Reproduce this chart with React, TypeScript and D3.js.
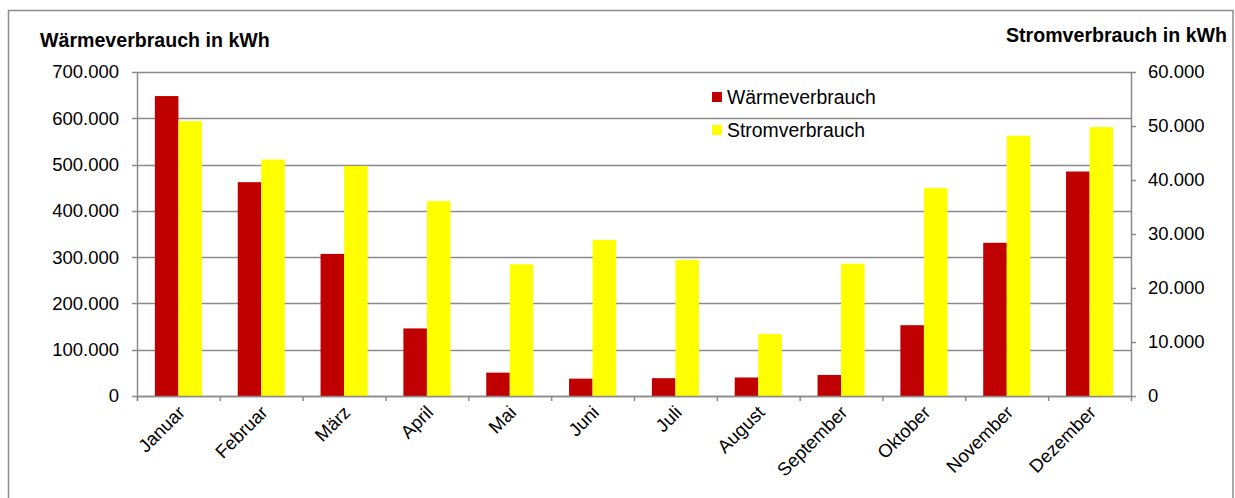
import React from "react";
import { scaleBand, scaleLinear } from "d3";

const months = [
  "Januar", "Februar", "März", "April", "Mai", "Juni",
  "Juli", "August", "September", "Oktober", "November", "Dezember",
];
const series = ["Wärmeverbrauch", "Stromverbrauch"];
const waerme = [648000, 462000, 307000, 146000, 50500, 37500, 38500, 40000, 45500, 153000, 331000, 485000];
const strom = [50900, 43800, 42600, 36100, 24400, 28900, 25200, 11500, 24500, 38500, 48200, 49800];
const leftTicks = [0, 100000, 200000, 300000, 400000, 500000, 600000, 700000];
const rightTicks = [0, 10000, 20000, 30000, 40000, 50000, 60000];

const colors = ["#C00000", "#FFFF00"];
const gridColor = "#8a8a8a";
const font = "'Liberation Sans', Arial, sans-serif";

const fmt = (v: number) =>
  v === 0 ? "0" : v.toLocaleString("de-DE", { maximumFractionDigits: 0 });

const W = 1235;
const H = 498;
const plot = { left: 137, right: 1131, top: 72, bottom: 396 };

export default function App() {
  const x0 = scaleBand<string>().domain(months).range([plot.left, plot.right]).padding(0);
  const x1 = scaleBand<string>()
    .domain(series)
    .range([0, x0.step()])
    .paddingInner(0)
    .paddingOuter(0.76);
  const yL = scaleLinear().domain([0, 700000]).range([plot.bottom, plot.top]);
  const yR = scaleLinear().domain([0, 60000]).range([plot.bottom, plot.top]);

  const values = [waerme, strom];
  const scales = [yL, yR];

  return (
    <svg
      width={W}
      height={H}
      style={{ position: "absolute", left: 0, top: 0, background: "#fff" }}
      fontFamily={font}
    >
      <rect x={8.5} y={10.5} width={1224.5} height={520} fill="#fff" stroke="#8c8c8c" strokeWidth={1.5} />

      {/* gridlines */}
      {leftTicks.map((t) => (
        <line key={t} x1={plot.left} x2={plot.right} y1={Math.round(yL(t)) + 0.5} y2={Math.round(yL(t)) + 0.5}
          stroke={gridColor} strokeWidth={1.5} />
      ))}

      {/* bars */}
      {series.map((s, si) =>
        months.map((m, i) => {
          const v = values[si][i];
          const y = scales[si](v);
          return (
            <rect key={s + m} x={(x0(m) ?? 0) + (x1(s) ?? 0)} y={y} width={x1.bandwidth()}
              height={plot.bottom - y} fill={colors[si]} />
          );
        })
      )}

      {/* axes lines */}
      <line x1={plot.left + 0.5} x2={plot.left + 0.5} y1={plot.top} y2={plot.bottom + 5} stroke={gridColor} strokeWidth={1.5} />
      <line x1={plot.right + 0.5} x2={plot.right + 0.5} y1={plot.top} y2={plot.bottom + 5} stroke={gridColor} strokeWidth={1.5} />
      <line x1={plot.left} x2={plot.right} y1={plot.bottom + 0.5} y2={plot.bottom + 0.5} stroke={gridColor} strokeWidth={1.5} />

      {/* left ticks */}
      {leftTicks.map((t) => (
        <g key={"l" + t}>
          <line x1={plot.left - 5} x2={plot.left} y1={Math.round(yL(t)) + 0.5} y2={Math.round(yL(t)) + 0.5}
            stroke={gridColor} strokeWidth={1.5} />
          <text x={119} y={yL(t)} dy="0.35em" textAnchor="end" fontSize={18.5} fill="#000">
            {fmt(t)}
          </text>
        </g>
      ))}

      {/* right ticks */}
      {rightTicks.map((t) => (
        <g key={"r" + t}>
          <line x1={plot.right} x2={plot.right + 5} y1={Math.round(yR(t)) + 0.5} y2={Math.round(yR(t)) + 0.5}
            stroke={gridColor} strokeWidth={1.5} />
          <text x={1148} y={yR(t)} dy="0.35em" textAnchor="start" fontSize={18.5} fill="#000">
            {fmt(t)}
          </text>
        </g>
      ))}

      {/* category ticks and labels */}
      {months.map((m, i) => {
        const bx = plot.left + i * x0.step();
        const cx = (x0(m) ?? 0) + x0.bandwidth() / 2;
        return (
          <g key={"c" + m}>
            <line x1={bx + 0.5} x2={bx + 0.5} y1={plot.bottom} y2={plot.bottom + 5} stroke={gridColor} strokeWidth={1.5} />
            <text transform={`translate(${cx + 3},${plot.bottom + 13}) rotate(-45)`} dy="0.35em"
              textAnchor="end" fontSize={18.5} fill="#000">
              {m}
            </text>
          </g>
        );
      })}

      {/* axis titles */}
      <text x={40} y={47} fontSize={19.6} fontWeight="bold" fill="#000">Wärmeverbrauch in kWh</text>
      <text x={1227} y={42} fontSize={19.6} fontWeight="bold" fill="#000" textAnchor="end">Stromverbrauch in kWh</text>

      {/* legend */}
      {series.map((s, si) => (
        <g key={"lg" + s} transform={`translate(712,${92 + si * 33})`}>
          <rect x={0} y={0} width={10} height={10} fill={colors[si]} />
          <text x={15} y={5} dy="0.35em" fontSize={19.4} fill="#000">{s}</text>
        </g>
      ))}
    </svg>
  );
}
